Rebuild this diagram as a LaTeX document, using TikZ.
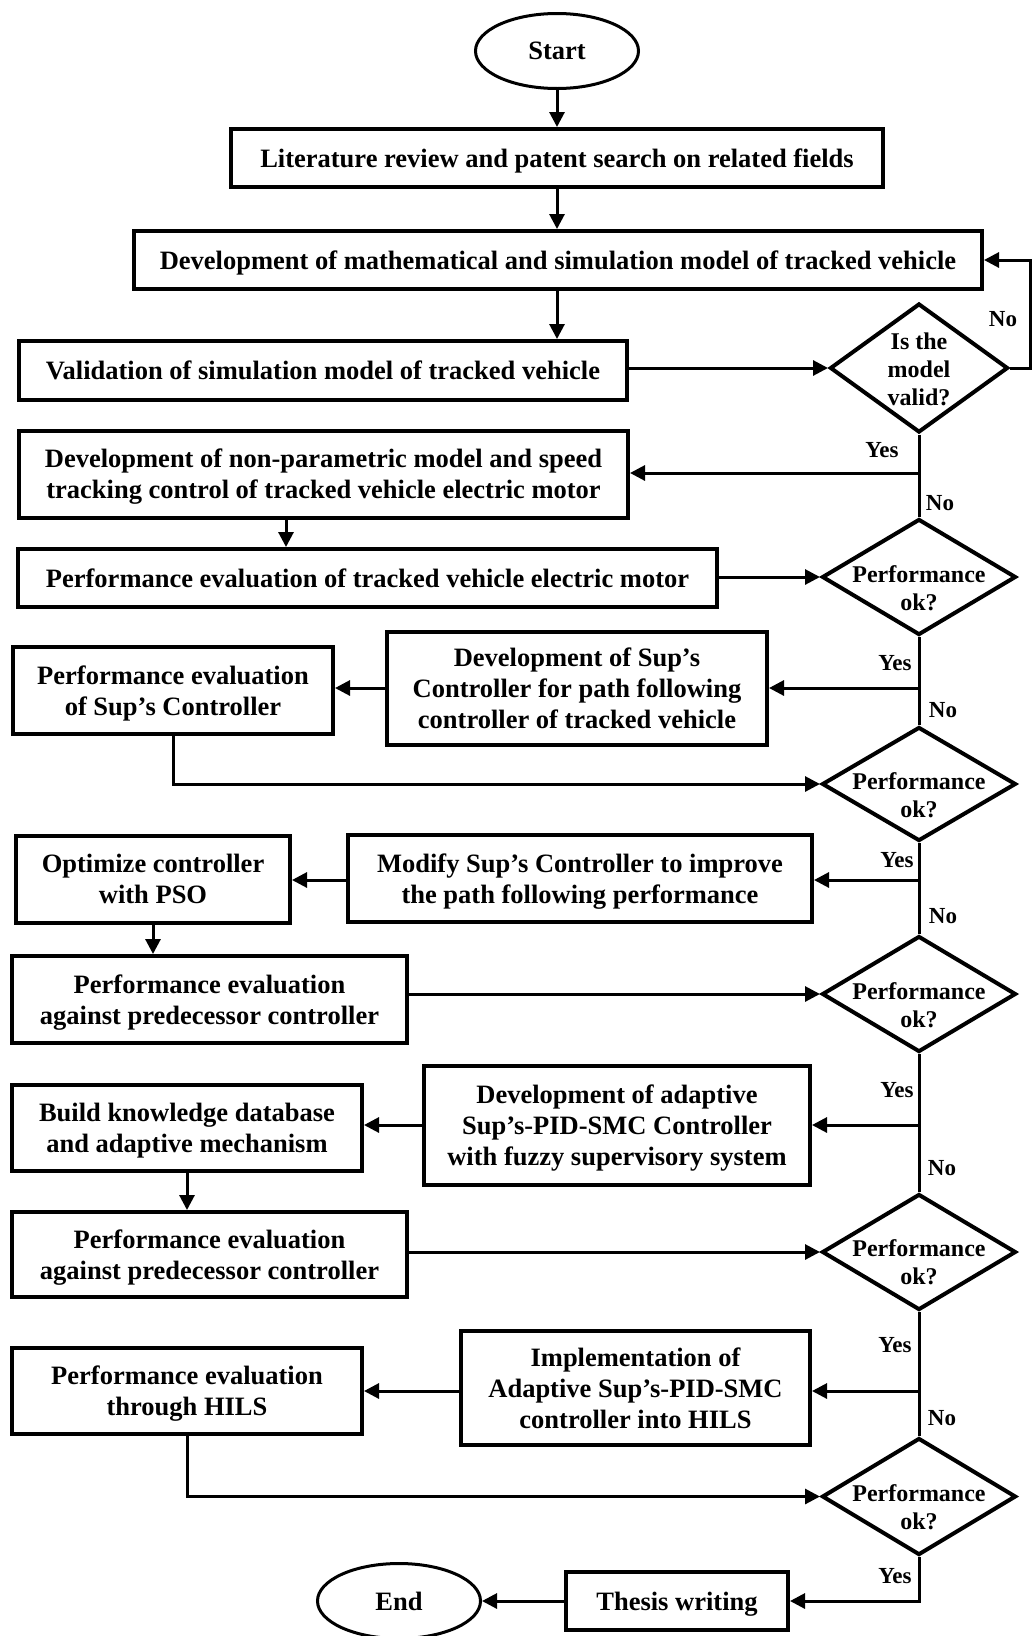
\documentclass[tikz,border=0pt]{standalone}
\usepackage{fontspec}
\setmainfont{Liberation Serif}
\usetikzlibrary{shapes.geometric,arrows.meta}
\begin{document}
\begin{tikzpicture}[x=1pt,y=-1pt,
  box/.style={draw,line width=4pt,align=center,inner sep=0pt,text depth=0pt,font=\bfseries\fontsize{26.5}{31}\selectfont},
  mbox/.style={box,text depth=-5pt},
  term/.style={draw,ellipse,line width=3pt,minimum width=163pt,minimum height=75pt,inner sep=0pt,font=\bfseries\fontsize{26.5}{31}\selectfont},
  dec/.style={draw,diamond,line width=4pt,inner sep=0pt},
  dtext/.style={align=center,inner sep=0pt,font=\bfseries\fontsize{24}{28}\selectfont},
  lab/.style={inner sep=0pt,font=\bfseries\fontsize{23}{27}\selectfont},
  conn/.style={line width=3pt},
  arr/.style={line width=3pt,-{Triangle[length=15pt,width=15pt]}}
]
\useasboundingbox (0,0) rectangle (1032,1636);

% terminals
\node[term] (start) at (557,51) {Start};
\node[term] (end) at (399,1601) {End};

% boxes
\node[box,minimum width=652pt,minimum height=58pt] (b1) at (557,158) {Literature review and patent search on related fields};
\node[box,minimum width=848pt,minimum height=58pt] (b2) at (558,260) {Development of mathematical and simulation model of tracked vehicle};
\node[box,minimum width=608pt,minimum height=59pt] (b3) at (323,370.5) {Validation of simulation model of tracked vehicle};
\node[mbox,minimum width=609pt,minimum height=87pt] (b4) at (323.5,474) {Development of non-parametric model and speed\\tracking control of tracked vehicle electric motor};
\node[box,minimum width=699pt,minimum height=58pt] (b5) at (367.5,578) {Performance evaluation of tracked vehicle electric motor};
\node[mbox,minimum width=380pt,minimum height=113pt] (b6) at (577,688.5) {Development of Sup’s\\Controller for path following\\controller of tracked vehicle};
\node[mbox,minimum width=320pt,minimum height=87pt] (b7) at (173,690.5) {Performance evaluation\\of Sup’s Controller};
\node[mbox,minimum width=464pt,minimum height=87pt] (b8) at (580,878.5) {Modify Sup’s Controller to improve\\the path following performance};
\node[mbox,minimum width=274pt,minimum height=87pt] (b9) at (153,879) {Optimize controller\\with PSO};
\node[mbox,minimum width=395pt,minimum height=87pt] (b10) at (209.5,999.5) {Performance evaluation\\against predecessor controller};
\node[mbox,minimum width=386pt,minimum height=119pt] (b11) at (617,1125.5) {Development of adaptive\\Sup’s-PID-SMC Controller\\with fuzzy supervisory system};
\node[mbox,minimum width=350pt,minimum height=86pt] (b12) at (187,1128) {Build knowledge database\\and adaptive mechanism};
\node[mbox,minimum width=395pt,minimum height=85pt] (b13) at (209.5,1254.5) {Performance evaluation\\against predecessor controller};
\node[mbox,minimum width=349pt,minimum height=114pt] (b14) at (635.5,1388) {Implementation of\\Adaptive Sup’s-PID-SMC\\controller into HILS};
\node[mbox,minimum width=350pt,minimum height=86pt] (b15) at (187,1391) {Performance evaluation\\through HILS};
\node[box,minimum width=222pt,minimum height=58pt] (b16) at (677,1601) {Thesis writing};

% decisions
\node[dec,minimum width=178pt,minimum height=129pt] (d1) at (919,368) {};
\node[dec,minimum width=194pt,minimum height=116pt] (d2) at (919,577) {};
\node[dec,minimum width=194pt,minimum height=114pt] (d3) at (919,784) {};
\node[dec,minimum width=194pt,minimum height=116pt] (d4) at (919,994) {};
\node[dec,minimum width=194pt,minimum height=116pt] (d5) at (919,1252) {};
\node[dec,minimum width=194pt,minimum height=117pt] (d6) at (919,1496.5) {};
\node[dtext] (t1) at (919,369) {Is the\\model\\valid?};
\node[dtext] (t2) at (919,588) {Performance\\ok?};
\node[dtext] (t3) at (919,795) {Performance\\ok?};
\node[dtext] (t4) at (919,1005) {Performance\\ok?};
\node[dtext] (t5) at (919,1262) {Performance\\ok?};
\node[dtext] (t6) at (919,1507) {Performance\\ok?};

% helper coordinates
\coordinate (rt) at (1030,368);
\coordinate (j1) at (919,473);
\coordinate (j2) at (919,688);
\coordinate (j3) at (919,880);
\coordinate (j4) at (919,1125);
\coordinate (j5) at (919,1391);
\coordinate (x286) at (286,0);

% connectors
\draw[arr] (start.south) -- (start.south |- b1.north);
\draw[arr] (b1.south) -- (b1.south |- b2.north);
\draw[arr] (b1.south |- b2.south) -- (b1.south |- b3.north);
\draw[arr] (b3.east |- d1.west) -- (d1.west);
\draw[arr] (d1.east) -- (rt) |- (b2.east);
\draw[conn] (d1.south) -- (d2.north);
\draw[arr] (j1) -- (j1 -| b4.east);
\draw[arr] (x286 |- b4.south) -- (x286 |- b5.north);
\draw[arr] (b5.east |- d2.west) -- (d2.west);
\draw[conn] (d2.south) -- (d3.north);
\draw[arr] (j2) -- (j2 -| b6.east);
\draw[arr] (j2 -| b6.west) -- (j2 -| b7.east);
\draw[arr] (b7.south) |- (d3.west);
\draw[conn] (d3.south) -- (d4.north);
\draw[arr] (j3) -- (j3 -| b8.east);
\draw[arr] (j3 -| b8.west) -- (j3 -| b9.east);
\draw[arr] (b9.south) -- (b9.south |- b10.north);
\draw[arr] (b10.east |- d4.west) -- (d4.west);
\draw[conn] (d4.south) -- (d5.north);
\draw[arr] (j4) -- (j4 -| b11.east);
\draw[arr] (j4 -| b11.west) -- (j4 -| b12.east);
\draw[arr] (b12.south) -- (b12.south |- b13.north);
\draw[arr] (b13.east |- d5.west) -- (d5.west);
\draw[conn] (d5.south) -- (d6.north);
\draw[arr] (j5) -- (j5 -| b14.east);
\draw[arr] (j5 -| b14.west) -- (j5 -| b15.east);
\draw[arr] (b15.south) |- (d6.west);
\draw[arr] (d6.south) |- (b16.east);
\draw[arr] (b16.west) -- (end.east);

% labels
\node[lab] (n1) at (1003,319) {No};
\node[lab] (y1) at (882,450) {Yes};
\node[lab] (n2) at (940,503) {No};
\node[lab] (y2) at (895,663) {Yes};
\node[lab] (n3) at (943,710) {No};
\node[lab] (y3) at (897,860) {Yes};
\node[lab] (n4) at (943,916) {No};
\node[lab] (y4) at (897,1090) {Yes};
\node[lab] (n5) at (942,1168) {No};
\node[lab] (y5) at (895,1345) {Yes};
\node[lab] (n6) at (942,1418) {No};
\node[lab] (y6) at (895,1576) {Yes};
\end{tikzpicture}
\end{document}
